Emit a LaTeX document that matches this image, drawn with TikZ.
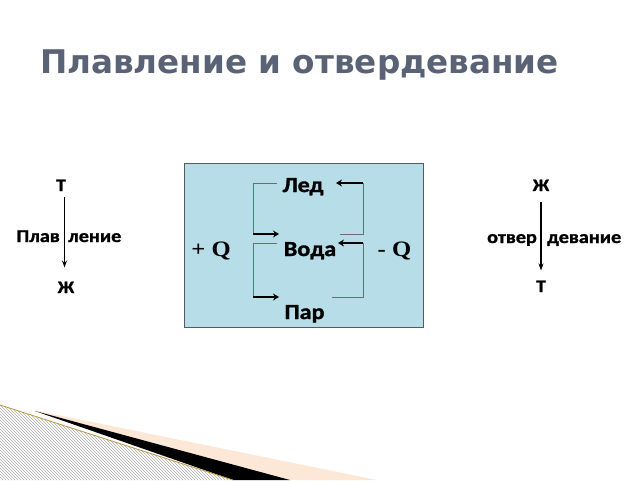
\documentclass[tikz,border=0pt]{standalone}
\usepackage{fontspec}
\usepackage{graphicx}
\setmainfont{Carlito}[BoldFeatures={FakeBold=1.3}]
\newfontfamily\titlefont{DejaVu Sans}
\newfontfamily\qfont{Liberation Serif}
\usetikzlibrary{patterns,arrows.meta}
\definecolor{titlegray}{HTML}{5A6275}
\definecolor{boxblue}{HTML}{B7DEE8}
\definecolor{peach}{HTML}{FDE8D8}
\definecolor{goldline}{HTML}{B89A3C}
\newcommand{\widetxt}[1]{\scalebox{1.12}[1]{#1}}
\tikzset{
  lbl/.style={font=\bfseries\fontsize{21.5}{24}\selectfont, inner sep=0pt, anchor=base},
  side/.style={font=\bfseries\fontsize{18}{20}\selectfont, inner sep=0pt, anchor=base},
  small/.style={font=\bfseries\fontsize{17.5}{20}\selectfont, inner sep=0pt, anchor=base},
  qlbl/.style={font=\qfont\bfseries\fontsize{22}{26}\selectfont, inner sep=0pt, anchor=base},
  gline/.style={draw=gray!85!black, line width=0.9pt},
  barrow/.style={draw=black, line width=2.2pt, -{Stealth[length=6pt,width=7pt]}},
  sarrow/.style={draw=black, line width=1.1pt, -{Stealth[length=7pt,width=5pt]}},
}
\begin{document}
\begin{tikzpicture}[x=1pt,y=-1pt]
\useasboundingbox (0,0) rectangle (640,480);
\fill[white] (0,0) rectangle (640,480);
% title
\node[font=\titlefont\bfseries\fontsize{32.6}{38}\selectfont, text=titlegray, inner sep=0pt, anchor=base west] (title) at (40,73) {Плавление и отвердевание};
% bottom decoration
\fill[peach] (33,410) -- (377,480) -- (233,480) -- cycle;
\fill[pattern=north west lines, pattern color=gray!65] (0,405) -- (233,480) -- (0,480) -- cycle;
\fill[black] (35,411) -- (290,480) -- (233,480) -- cycle;
\draw[goldline, line width=0.8pt] (0,405) -- (233,480);
% box
\node[draw=gray!70!black, line width=1pt, fill=boxblue, minimum width=239pt, minimum height=164pt, inner sep=0pt] (box) at (303.5,245) {};
\node[lbl] (led) at (303,192) {\widetxt{Лед}};
\node[lbl] (voda) at (310,256) {\widetxt{Вода}};
\node[lbl] (par) at (304.5,319) {\widetxt{Пар}};
\node[qlbl] (plusq) at (211,256) {\widetxt{+ Q}};
\node[qlbl] (minusq) at (394.5,256) {\widetxt{- Q}};
% brackets
\coordinate (a1) at (277,183); \coordinate (a2) at (253,234); \coordinate (a3) at (279,234);
\coordinate (b1) at (277,243); \coordinate (b2) at (253,297); \coordinate (b3) at (279,297);
\coordinate (c1) at (340,234); \coordinate (c2) at (363,183); \coordinate (c3) at (336,183);
\coordinate (d1) at (332,297); \coordinate (d2) at (363,243); \coordinate (d3) at (338,243);
\draw[gline] (a1) -| (a2);
\draw[barrow] (a2) -- (a3);
\draw[gline] (b1) -| (b2);
\draw[barrow] (b2) -- (b3);
\draw[gline] (c1) -| (c2);
\draw[barrow] (c2) -- (c3);
\draw[gline] (d1) -| (d2);
\draw[barrow] (d2) -- (d3);
% left side
\node[small] (lt) at (61,191) {\widetxt{Т}};
\node[small] (lzh) at (66,293) {\widetxt{Ж}};
\node[side, anchor=base east] (plav) at (60,242) {\widetxt{Плав}};
\node[side, anchor=base west] (lenie) at (68,242) {\widetxt{ление}};
\coordinate (lx) at (64.5,0);
\draw[sarrow] ([yshift=-6pt]lt.south -| lx) -- ([yshift=14pt]lzh.north -| lx);
% right side
\node[small] (rzh) at (541,191) {\widetxt{Ж}};
\node[small] (rt) at (541,292) {\widetxt{Т}};
\node[side, anchor=base east] (otver) at (537,243) {\widetxt{отвер}};
\node[side, anchor=base west] (devanie) at (547,243) {\widetxt{девание}};
\draw[sarrow] ([yshift=-11pt]rzh.south) -- ([yshift=10pt]rt.north);
\end{tikzpicture}
\end{document}
